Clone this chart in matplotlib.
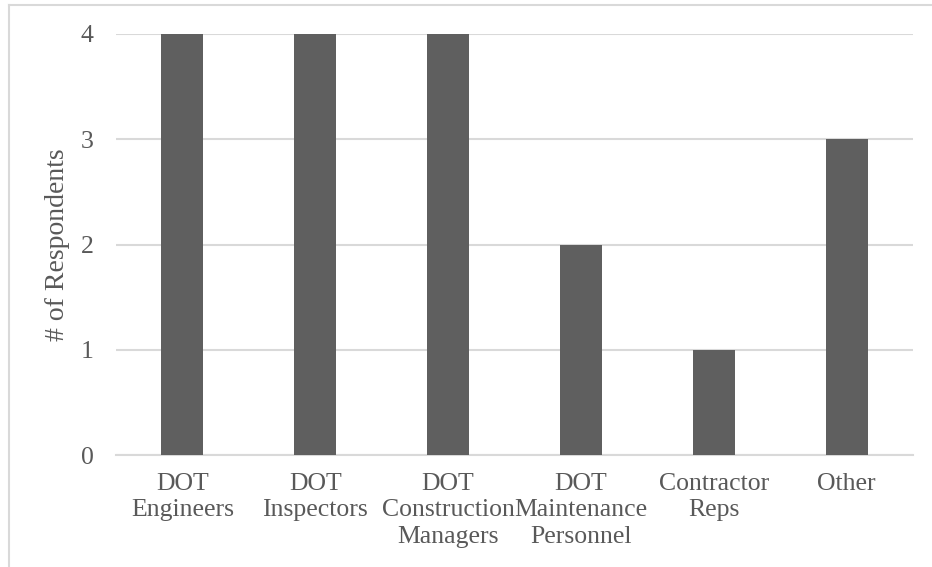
import matplotlib
matplotlib.use("Agg")
import matplotlib.pyplot as plt
from matplotlib.lines import Line2D

categories = ["DOT\nEngineers", "DOT\nInspectors", "DOT\nConstruction\nManagers",
              "DOT\nMaintenance\nPersonnel", "Contractor\nReps", "Other"]
respondents = [4, 4, 4, 2, 1, 3]
y_ticks = [0, 1, 2, 3, 4]

W, H = 932, 567
fig = plt.figure(figsize=(W / 100, H / 100), dpi=100)
fig.patch.set_facecolor("white")

text_color = "#595959"
grid_color = "#d9d9d9"
font = "Liberation Serif"
fs = 18.5

ax = fig.add_axes([116 / W, 112 / H, (913 - 116) / W, (455 - 34) / H])
x = list(range(len(categories)))
ax.bar(x, respondents, width=0.316, color="#5f5f5f", zorder=3)
ax.set_xlim(-0.5, len(categories) - 0.5)
ax.set_ylim(0, 4)
ax.set_yticks(y_ticks)
ax.set_yticklabels([str(t) for t in y_ticks], fontsize=fs, color=text_color, family=font)
ax.set_xticks(x)
ax.set_xticklabels(categories, fontsize=fs, color=text_color, family=font, linespacing=1.25)
ax.tick_params(axis="both", length=0)
ax.tick_params(axis="x", pad=13)
ax.tick_params(axis="y", pad=16)
ax.yaxis.grid(True, color=grid_color, linewidth=1.5, zorder=0)
for s in ["top", "right", "left"]:
    ax.spines[s].set_visible(False)
ax.spines["bottom"].set_color(grid_color)
ax.spines["bottom"].set_linewidth(1.5)
ax.set_ylabel("# of Respondents", fontsize=20, color=text_color, family=font, labelpad=8)

# chart frame
fig.add_artist(Line2D([8.5 / W, 8.5 / W], [0, 1 - 5 / H], transform=fig.transFigure,
                      color=grid_color, linewidth=1.5))
fig.add_artist(Line2D([8.5 / W, 931 / W], [1 - 5 / H, 1 - 5 / H], transform=fig.transFigure,
                      color=grid_color, linewidth=1.5))

fig.savefig("out.png", dpi=100)
